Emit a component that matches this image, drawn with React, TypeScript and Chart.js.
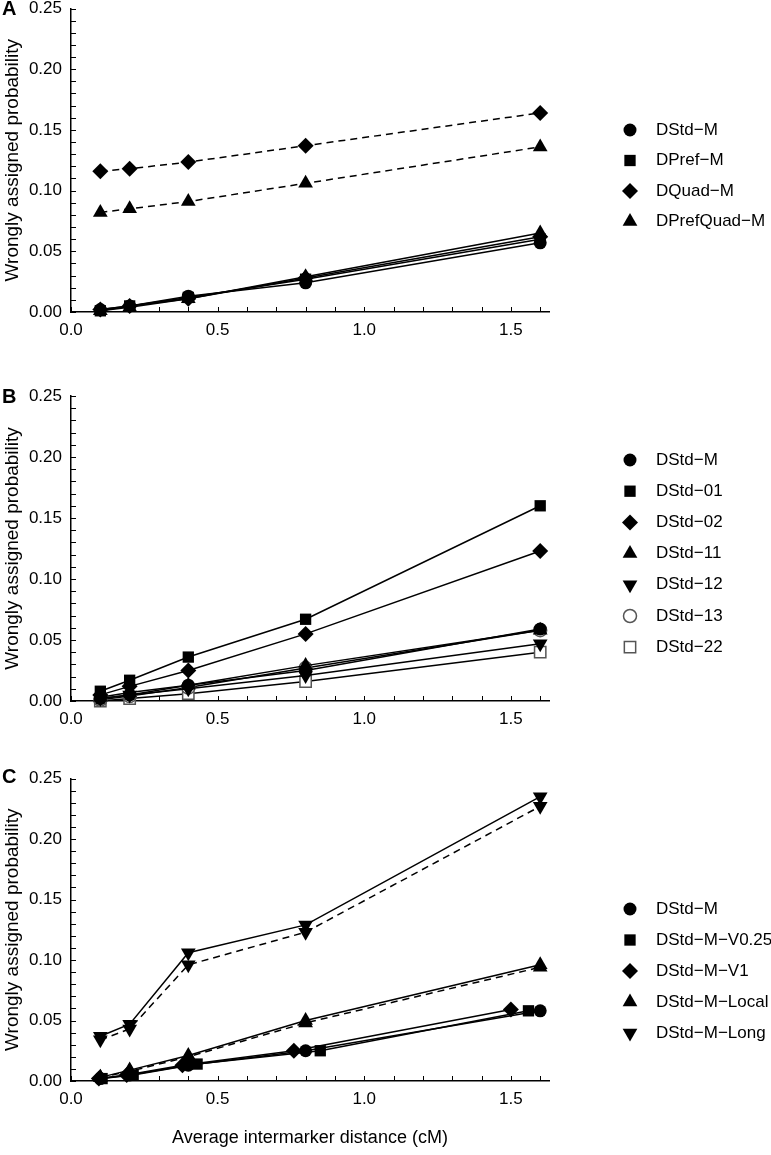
import React, { useEffect, useRef } from 'react';
import { Chart, registerables } from 'chart.js';
import { drawPoint } from 'chart.js/helpers';

Chart.register(...registerables);

// ---------------- data ----------------
const xDist = [0.1, 0.2, 0.4, 0.8, 1.6];
const xV025 = [0.106, 0.212, 0.43, 0.85, 1.56];
const xV1 = [0.095, 0.19, 0.38, 0.76, 1.5];

// Panel A
const aStdM = [0.002, 0.005, 0.013, 0.024, 0.057];
const aPrefM = [0.001, 0.005, 0.012, 0.027, 0.06];
const aQuadM = [0.002, 0.005, 0.011, 0.028, 0.062];
const aPrefQuadM = [0.001, 0.004, 0.011, 0.029, 0.065];
const aQuadDashed = [0.116, 0.118, 0.1235, 0.137, 0.164];
const aPrefQuadDashed = [0.082, 0.085, 0.091, 0.106, 0.136];

// Panel B
const bStdM = [0.002, 0.005, 0.013, 0.025, 0.059];
const bStd01 = [0.008, 0.017, 0.036, 0.067, 0.16];
const bStd02 = [0.005, 0.012, 0.025, 0.055, 0.123];
const bStd11 = [0.003, 0.007, 0.013, 0.029, 0.058];
const bStd12 = [0.002, 0.005, 0.01, 0.021, 0.047];
const bStd13 = [0.001, 0.004, 0.011, 0.027, 0.058];
const bStd22 = [0.0, 0.002, 0.006, 0.016, 0.04];

// Panel C
const cStdM = [0.002, 0.005, 0.013, 0.025, 0.058];
const cV025 = [0.002, 0.005, 0.014, 0.025, 0.058];
const cV1 = [0.002, 0.005, 0.013, 0.025, 0.059];
const cLocal = [0.003, 0.009, 0.021, 0.05, 0.096];
const cLocalDashed = [0.003, 0.008, 0.02, 0.048, 0.094];
const cLong = [0.037, 0.047, 0.106, 0.129, 0.235];
const cLongDashed = [0.034, 0.043, 0.096, 0.123, 0.227];

const yTitle = 'Wrongly assigned probability';
const xTitle = 'Average intermarker distance (cM)';

// ---------------- styles ----------------
const FONT = '"Liberation Sans", Arial, Helvetica, sans-serif';

type Mk = { style: string; rotation: number; radius: number; filled: boolean };
const CIRCLE: Mk = { style: 'circle', rotation: 0, radius: 6.5, filled: true };
const SQUARE: Mk = { style: 'rect', rotation: 0, radius: 8, filled: true };
const DIAMOND: Mk = { style: 'rectRot', rotation: 0, radius: 8, filled: true };
const UP: Mk = { style: 'triangle', rotation: 0, radius: 8.5, filled: true };
const DOWN: Mk = { style: 'triangle', rotation: 180, radius: 8.5, filled: true };
const OCIRCLE: Mk = { style: 'circle', rotation: 0, radius: 6.5, filled: false };
const OSQUARE: Mk = { style: 'rect', rotation: 0, radius: 8, filled: false };

type Series = { label: string; xs: number[]; ys: number[]; mk: Mk; dashed?: boolean };

const M = '\u2212';

// listed bottom-most first, top-most last
const panelA: Series[] = [
  { label: `DQuad${M}M`, xs: xDist, ys: aQuadDashed, mk: DIAMOND, dashed: true },
  { label: `DPrefQuad${M}M`, xs: xDist, ys: aPrefQuadDashed, mk: UP, dashed: true },
  { label: `DPrefQuad${M}M`, xs: xDist, ys: aPrefQuadM, mk: UP },
  { label: `DQuad${M}M`, xs: xDist, ys: aQuadM, mk: DIAMOND },
  { label: `DPref${M}M`, xs: xDist, ys: aPrefM, mk: SQUARE },
  { label: `DStd${M}M`, xs: xDist, ys: aStdM, mk: CIRCLE },
];
const legendA = [
  { label: `DStd${M}M`, mk: CIRCLE },
  { label: `DPref${M}M`, mk: SQUARE },
  { label: `DQuad${M}M`, mk: DIAMOND },
  { label: `DPrefQuad${M}M`, mk: UP },
];

const panelB: Series[] = [
  { label: `DStd${M}22`, xs: xDist, ys: bStd22, mk: OSQUARE },
  { label: `DStd${M}13`, xs: xDist, ys: bStd13, mk: OCIRCLE },
  { label: `DStd${M}12`, xs: xDist, ys: bStd12, mk: DOWN },
  { label: `DStd${M}11`, xs: xDist, ys: bStd11, mk: UP },
  { label: `DStd${M}02`, xs: xDist, ys: bStd02, mk: DIAMOND },
  { label: `DStd${M}01`, xs: xDist, ys: bStd01, mk: SQUARE },
  { label: `DStd${M}M`, xs: xDist, ys: bStdM, mk: CIRCLE },
];
const legendB = [
  { label: `DStd${M}M`, mk: CIRCLE },
  { label: `DStd${M}01`, mk: SQUARE },
  { label: `DStd${M}02`, mk: DIAMOND },
  { label: `DStd${M}11`, mk: UP },
  { label: `DStd${M}12`, mk: DOWN },
  { label: `DStd${M}13`, mk: OCIRCLE },
  { label: `DStd${M}22`, mk: OSQUARE },
];

const panelC: Series[] = [
  { label: `DStd${M}M${M}Long`, xs: xDist, ys: cLongDashed, mk: DOWN, dashed: true },
  { label: `DStd${M}M${M}Long`, xs: xDist, ys: cLong, mk: DOWN },
  { label: `DStd${M}M${M}Local`, xs: xDist, ys: cLocalDashed, mk: UP, dashed: true },
  { label: `DStd${M}M${M}Local`, xs: xDist, ys: cLocal, mk: UP },
  { label: `DStd${M}M${M}V0.25`, xs: xV025, ys: cV025, mk: SQUARE },
  { label: `DStd${M}M${M}V1`, xs: xV1, ys: cV1, mk: DIAMOND },
  { label: `DStd${M}M`, xs: xDist, ys: cStdM, mk: CIRCLE },
];
const legendC = [
  { label: `DStd${M}M`, mk: CIRCLE },
  { label: `DStd${M}M${M}V0.25`, mk: SQUARE },
  { label: `DStd${M}M${M}V1`, mk: DIAMOND },
  { label: `DStd${M}M${M}Local`, mk: UP },
  { label: `DStd${M}M${M}Long`, mk: DOWN },
];

type PanelCfg = {
  letter: string;
  top: number;
  height: number;
  plotTop: number;
  plotBottom: number;
  series: Series[];
  legend: { label: string; mk: Mk }[];
  legendTop: number;
  legendGap: number;
  showXTitle: boolean;
};

const W = 771;
const PLOT_LEFT = 71;
const PLOT_RIGHT = 549;
const LEGEND_MARKER_X = 630;
const LEGEND_TEXT_X = 656;

const panels: PanelCfg[] = [
  { letter: 'A', top: 0, height: 385, plotTop: 8, plotBottom: 312, series: panelA, legend: legendA, legendTop: 130, legendGap: 30.5, showXTitle: false },
  { letter: 'B', top: 385, height: 385, plotTop: 11, plotBottom: 316, series: panelB, legend: legendB, legendTop: 75, legendGap: 31.2, showXTitle: false },
  { letter: 'C', top: 770, height: 385, plotTop: 6, plotBottom: 311, series: panelC, legend: legendC, legendTop: 139, legendGap: 31, showXTitle: true },
];

const sideLegend = {
  id: 'sideLegend',
  afterDraw(chart: any, _args: any, opts: any) {
    const ctx = chart.ctx as CanvasRenderingContext2D;
    (opts.items || []).forEach((it: { label: string; mk: Mk }, i: number) => {
      const y = opts.top + i * opts.gap;
      ctx.save();
      ctx.fillStyle = it.mk.filled ? '#000' : '#fff';
      ctx.strokeStyle = it.mk.filled ? '#000' : '#555';
      ctx.lineWidth = it.mk.filled ? 0 : 1.5;
      drawPoint(ctx, { pointStyle: it.mk.style as any, rotation: it.mk.rotation, radius: it.mk.radius, borderWidth: it.mk.filled ? 0 : 1.5 }, LEGEND_MARKER_X, y);
      ctx.fillStyle = '#000';
      ctx.font = `17px ${FONT}`;
      ctx.textBaseline = 'middle';
      ctx.textAlign = 'left';
      ctx.fillText(it.label, LEGEND_TEXT_X, y);
      ctx.restore();
    });
  },
};

// inward tick marks, placed with the scales' own pixel mapping
const innerTicks = {
  id: 'innerTicks',
  beforeDatasetsDraw(chart: any) {
    const ctx = chart.ctx as CanvasRenderingContext2D;
    const area = chart.chartArea;
    const xs = chart.scales.x;
    const ys = chart.scales.y;
    ctx.save();
    ctx.strokeStyle = '#000';
    ctx.lineWidth = 1;
    xs.ticks.forEach((t: any) => {
      const px = Math.round(xs.getPixelForValue(t.value)) + 0.5;
      ctx.beginPath();
      ctx.moveTo(px, area.bottom);
      ctx.lineTo(px, area.bottom - 5);
      ctx.stroke();
    });
    ys.ticks.forEach((t: any) => {
      const py = Math.round(ys.getPixelForValue(t.value)) + 0.5;
      ctx.beginPath();
      ctx.moveTo(area.left, py);
      ctx.lineTo(area.left + 5, py);
      ctx.stroke();
    });
    ctx.restore();
  },
};

function Panel({ cfg }: { cfg: PanelCfg }) {
  const ref = useRef<HTMLCanvasElement>(null);
  useEffect(() => {
    const n = cfg.series.length;
    const datasets = cfg.series.map((s, i) => ({
      label: s.label,
      order: n - i,
      data: s.xs.map((x, k) => ({ x, y: s.ys[k] })),
      showLine: true,
      borderColor: '#000',
      borderWidth: 1.5,
      borderDash: s.dashed ? [7, 5] : [],
      pointStyle: s.mk.style,
      pointRotation: s.mk.rotation,
      pointRadius: s.mk.radius,
      pointHoverRadius: s.mk.radius,
      pointBackgroundColor: s.mk.filled ? '#000' : '#fff',
      pointBorderColor: s.mk.filled ? '#000' : '#555',
      pointBorderWidth: s.mk.filled ? 0 : 1.5,
      fill: false,
      tension: 0,
      clip: false as any,
    }));
    const chart = new Chart(ref.current!, {
      type: 'scatter',
      data: { datasets: datasets as any },
      plugins: [innerTicks, sideLegend],
      options: {
        animation: false,
        responsive: false,
        maintainAspectRatio: false,
        events: [],
        layout: { padding: { left: 0, top: cfg.plotTop, right: W - PLOT_RIGHT, bottom: 0 } },
        plugins: {
          legend: { display: false },
          tooltip: { enabled: false },
          sideLegend: { items: cfg.legend, top: cfg.legendTop, gap: cfg.legendGap },
        } as any,
        scales: {
          x: {
            type: 'linear',
            position: 'bottom',
            min: 0,
            max: 1.63,
            bounds: 'data',
            afterFit: (s: any) => {
              s.height = cfg.height - cfg.plotBottom;
              s.paddingLeft = 0;
              s.paddingRight = 0;
              s.paddingTop = 0;
              s.paddingBottom = 0;
            },
            border: { display: true, color: '#000', width: 1.5 },
            grid: { display: false, drawOnChartArea: false, drawTicks: false },
            ticks: {
              stepSize: 0.1,
              includeBounds: false,
              autoSkip: false,
              maxRotation: 0,
              padding: 8,
              color: '#000',
              font: { family: FONT, size: 17 },
              callback: (v: any) => {
                const r = Math.round(Number(v) * 10);
                return r % 5 === 0 ? (r / 10).toFixed(1) : '';
              },
            },
            title: {
              display: cfg.showXTitle,
              text: xTitle,
              color: '#000',
              font: { family: FONT, size: 18 },
              padding: { top: 0, bottom: 6 },
            },
          },
          y: {
            type: 'linear',
            position: 'left',
            min: 0,
            max: 0.25,
            afterFit: (s: any) => {
              s.width = PLOT_LEFT;
              s.paddingLeft = 0;
              s.paddingRight = 0;
              s.paddingTop = 0;
              s.paddingBottom = 0;
            },
            border: { display: true, color: '#000', width: 1.5 },
            grid: { display: false, drawOnChartArea: false, drawTicks: false },
            ticks: {
              stepSize: 0.01,
              maxTicksLimit: 100,
              autoSkip: false,
              padding: 9,
              color: '#000',
              font: { family: FONT, size: 17 },
              callback: (v: any) => {
                const r = Math.round(Number(v) * 100);
                return r % 5 === 0 ? (r / 100).toFixed(2) : '';
              },
            },
            title: {
              display: true,
              text: yTitle,
              color: '#000',
              font: { family: FONT, size: 19 },
              padding: { top: 1, bottom: 0 },
            },
          },
        },
      } as any,
    });
    return () => chart.destroy();
  }, []);
  return (
    <>
      <canvas
        ref={ref}
        width={W}
        height={cfg.height}
        style={{ position: 'absolute', left: 0, top: cfg.top, width: W, height: cfg.height }}
      />
      <div
        style={{
          position: 'absolute',
          left: 2,
          top: cfg.top + cfg.plotTop - 11,
          font: `bold 20px ${FONT}`,
          lineHeight: '22px',
          color: '#000',
        }}
      >
        {cfg.letter}
      </div>
    </>
  );
}

export default function App() {
  return (
    <div style={{ position: 'absolute', left: 0, top: 0, width: W, height: 1155, background: '#fff', overflow: 'hidden' }}>
      {panels.map((p) => (
        <Panel key={p.letter} cfg={p} />
      ))}
    </div>
  );
}
